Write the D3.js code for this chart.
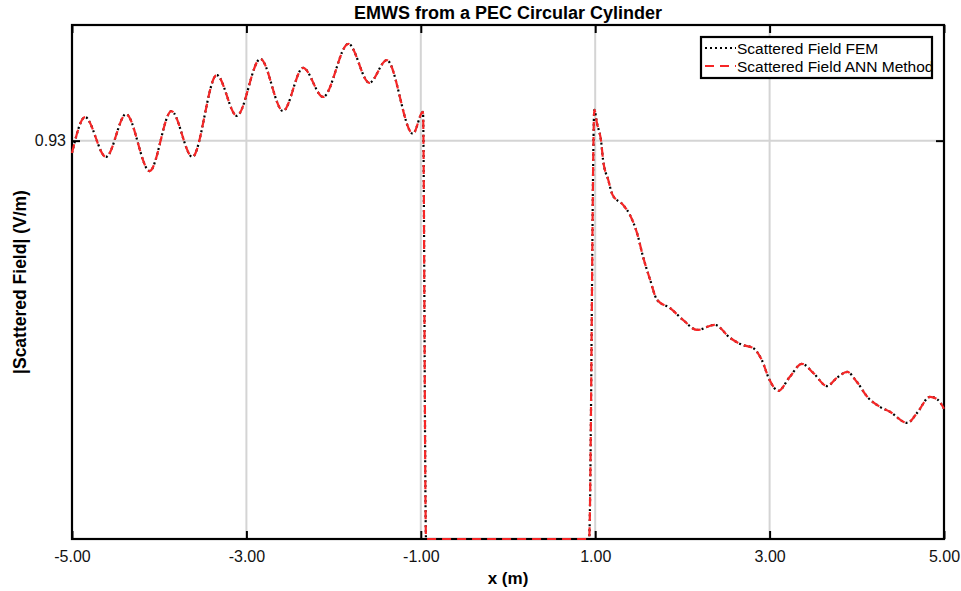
<!DOCTYPE html>
<html>
<head>
<meta charset="utf-8">
<script src="https://cdn.jsdelivr.net/npm/d3@7"></script>
<style>
  body { margin: 0; background: #fff; }
  text { font-family: 'Liberation Sans', Arial, Helvetica, sans-serif; }
</style>
</head>
<body>
<script>
// x positions (m) and |scattered field| values
const xs = [
  -5.0, -4.85, -4.61, -4.38, -4.11, -3.86, -3.62, -3.34, -3.11, -2.84,
  -2.58, -2.35, -2.12, -1.83, -1.59, -1.39, -1.09, -0.975, -0.94,
  0.93, 0.99, 1.02, 1.07, 1.09, 1.15, 1.2, 1.32, 1.4, 1.48, 1.55,
  1.63, 1.71, 1.86, 2.01, 2.17, 2.37, 2.55, 2.69, 2.81, 2.91,
  3.0, 3.1, 3.23, 3.37, 3.5, 3.66, 3.77, 3.89, 4.0, 4.12,
  4.27, 4.38, 4.58, 4.69, 4.84, 4.93, 5.0,
];
const femValues = [
  0.901, 0.985, 0.892, 0.992, 0.859, 0.999, 0.892, 1.083, 0.988, 1.121,
  0.999, 1.1, 1.032, 1.156, 1.065, 1.118, 0.946, 0.997, 0,
  0, 1.002, 0.971, 0.925, 0.885, 0.838, 0.803, 0.78, 0.756, 0.714, 0.658,
  0.605, 0.558, 0.539, 0.511, 0.488, 0.5, 0.469, 0.453, 0.446, 0.418,
  0.371, 0.346, 0.378, 0.409, 0.388, 0.357, 0.376, 0.39, 0.367, 0.332,
  0.308, 0.297, 0.271, 0.294, 0.332, 0.325, 0.304,
];
const annValues = femValues.slice();
const xTicks = [-5, -3, -1, 1, 3, 5];
const yTicks = [0.93];
const seriesNames = ['Scattered Field FEM', 'Scattered Field ANN Method'];

const width = 961;
const height = 591;
const margin = { top: 25, right: 17, bottom: 52, left: 72 };

const svg = d3
  .select('body')
  .append('svg')
  .attr('width', width)
  .attr('height', height);

const x = d3
  .scaleLinear()
  .domain([-5, 5])
  .range([margin.left, width - margin.right]);

const y = d3
  .scaleLinear()
  .domain([0, 1.2])
  .range([height - margin.bottom, margin.top]);

const plotW = width - margin.left - margin.right;
const plotH = height - margin.top - margin.bottom;

// grid
svg
  .append('g')
  .selectAll('line.vgrid')
  .data(xTicks.slice(1, -1))
  .enter()
  .append('line')
  .attr('x1', (d) => x(d))
  .attr('x2', (d) => x(d))
  .attr('y1', margin.top)
  .attr('y2', height - margin.bottom)
  .attr('stroke', '#d4d4d4')
  .attr('stroke-width', 2);

svg
  .append('g')
  .selectAll('line.hgrid')
  .data(yTicks)
  .enter()
  .append('line')
  .attr('x1', margin.left)
  .attr('x2', width - margin.right)
  .attr('y1', (d) => y(d))
  .attr('y2', (d) => y(d))
  .attr('stroke', '#d4d4d4')
  .attr('stroke-width', 2);

// axes (inward ticks, full box)
const fmt = (d) => d3.format('.2f')(d).replace('\u2212', '-');
const tickLen = 8;

svg
  .append('g')
  .attr('transform', `translate(0,${height - margin.bottom})`)
  .call(d3.axisBottom(x).tickValues(xTicks).tickFormat(fmt).tickSizeInner(-tickLen).tickSizeOuter(0).tickPadding(12))
  .call((g) => g.select('.domain').remove())
  .call((g) => g.selectAll('.tick line').attr('stroke-width', 2))
  .call((g) => g.selectAll('.tick text').attr('font-size', 16).attr('fill', '#111'));

svg
  .append('g')
  .attr('transform', `translate(0,${margin.top})`)
  .call(d3.axisTop(x).tickValues(xTicks).tickFormat('').tickSizeInner(-tickLen).tickSizeOuter(0))
  .call((g) => g.select('.domain').remove())
  .call((g) => g.selectAll('.tick line').attr('stroke-width', 2));

svg
  .append('g')
  .attr('transform', `translate(${margin.left},0)`)
  .call(d3.axisLeft(y).tickValues(yTicks).tickFormat(fmt).tickSizeInner(-tickLen).tickSizeOuter(0).tickPadding(6))
  .call((g) => g.select('.domain').remove())
  .call((g) => g.selectAll('.tick line').attr('stroke-width', 2))
  .call((g) => g.selectAll('.tick text').attr('font-size', 16).attr('fill', '#111'));

svg
  .append('g')
  .attr('transform', `translate(${width - margin.right},0)`)
  .call(d3.axisRight(y).tickValues(yTicks).tickFormat('').tickSizeInner(-tickLen).tickSizeOuter(0))
  .call((g) => g.select('.domain').remove())
  .call((g) => g.selectAll('.tick line').attr('stroke-width', 2));

svg
  .append('rect')
  .attr('x', margin.left)
  .attr('y', margin.top)
  .attr('width', plotW)
  .attr('height', plotH)
  .attr('fill', 'none')
  .attr('stroke', '#000')
  .attr('stroke-width', 2.2);

// curves (drawn over the frame so the zero stretch stays visible)
const line = d3
  .line()
  .x((d) => x(d[0]))
  .y((d) => y(d[1]))
  .curve(d3.curveMonotoneX);

svg
  .append('path')
  .datum(xs.map((v, i) => [v, femValues[i]]))
  .attr('d', line)
  .attr('fill', 'none')
  .attr('stroke', '#000')
  .attr('stroke-width', 2.2)
  .attr('stroke-dasharray', '2,3');

svg
  .append('path')
  .datum(xs.map((v, i) => [v, annValues[i]]))
  .attr('d', line)
  .attr('fill', 'none')
  .attr('stroke', '#f62626')
  .attr('stroke-width', 2.2)
  .attr('stroke-dasharray', '9,6');

// titles
svg
  .append('text')
  .attr('x', margin.left + plotW / 2)
  .attr('y', 19)
  .attr('text-anchor', 'middle')
  .attr('font-size', 18)
  .attr('font-weight', 'bold')
  .text('EMWS from a PEC Circular Cylinder');

svg
  .append('text')
  .attr('x', margin.left + plotW / 2)
  .attr('y', 584)
  .attr('text-anchor', 'middle')
  .attr('font-size', 17)
  .attr('font-weight', 'bold')
  .text('x (m)');

svg
  .append('text')
  .attr('transform', `translate(26,${margin.top + plotH / 2})rotate(-90)`)
  .attr('text-anchor', 'middle')
  .attr('font-size', 17.5)
  .attr('font-weight', 'bold')
  .text('|Scattered Field| (V/m)');

// legend
const legend = svg.append('g').attr('transform', 'translate(701,37)');
legend
  .append('rect')
  .attr('width', 231)
  .attr('height', 41)
  .attr('fill', '#fff')
  .attr('stroke', '#000')
  .attr('stroke-width', 2.2);

const legendStyles = [
  { color: '#000', dash: '2,3' },
  { color: '#f62626', dash: '9,6' },
];

seriesNames.forEach((name, i) => {
  const row = legend.append('g').attr('transform', `translate(0,${11 + i * 18})`);
  row
    .append('line')
    .attr('x1', 4)
    .attr('x2', 35)
    .attr('stroke', legendStyles[i].color)
    .attr('stroke-width', 2.2)
    .attr('stroke-dasharray', legendStyles[i].dash);
  row
    .append('text')
    .attr('x', 36)
    .attr('y', 5.5)
    .attr('font-size', 15.5)
    .text(name);
});
</script>
</body>
</html>
